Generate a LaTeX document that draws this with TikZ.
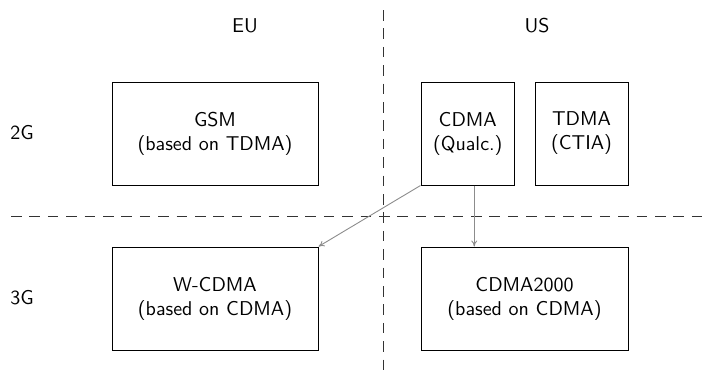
\documentclass[tikz,border=0pt]{standalone}
\usetikzlibrary{arrows.meta}
\begin{document}
\begin{tikzpicture}[x=0.5pt,y=-0.5pt,
  font=\sffamily,
  box/.style={draw=black, line width=0.5pt, inner sep=0pt, align=center, minimum height=51.5pt},
  lbl/.style={inner sep=0pt},
  sep/.style={draw=black!80, line width=0.4pt, dash pattern=on 5.3pt off 3.9pt},
  link/.style={draw=black!45, line width=0.45pt, -{To[length=3pt,width=3pt]}}]
\useasboundingbox (0,0) rectangle (702,377);
% separators
\coordinate (vt) at (383,10);
\coordinate (vb) at (383,377);
\coordinate (hl) at (11,216);
\coordinate (hr) at (702,216);
\draw[sep] (vt) -- (vb);
\draw[sep] (hl) -- (hr);
% headings
\node[lbl] (eu) at (245,26) {EU};
\node[lbl] (us) at (537,26) {US};
\node[lbl] (g2) at (22,133) {2G};
\node[lbl] (g3) at (22,298) {3G};
% boxes
\node[box, minimum width=103pt] (gsm) at (215,133.5) {GSM\\(based on TDMA)};
\node[box, minimum width=46.75pt] (cdma) at (467.75,133.5) {CDMA\\(Qualc.)};
\node[box, minimum width=46.5pt] (tdma) at (581.5,133.5) {TDMA\\(CTIA)};
\node[box, minimum width=103pt] (wcdma) at (215,298.5) {W-CDMA\\(based on CDMA)};
\node[box, minimum width=103.5pt] (cdma2k) at (524.5,298.5) {CDMA2000\\(based on CDMA)};
% links
\draw[link] (cdma.south west) -- (wcdma.north east);
\draw[link] ([xshift=3.25pt]cdma.south) -- ([xshift=3.25pt]cdma.south |- cdma2k.north);
\end{tikzpicture}
\end{document}
